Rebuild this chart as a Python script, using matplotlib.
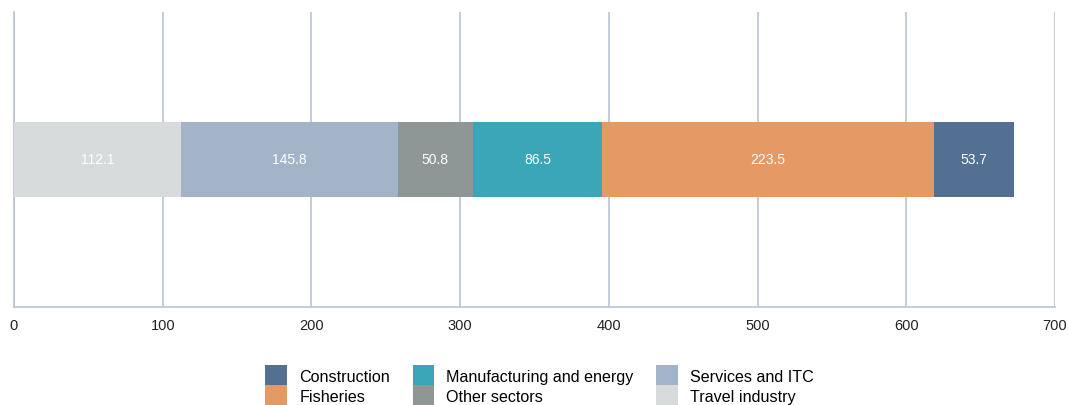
import matplotlib.pyplot as plt
from matplotlib.patches import Patch

sectors = ["Travel industry", "Services and ITC", "Other sectors",
           "Manufacturing and energy", "Fisheries", "Construction"]
values = [112.1, 145.8, 50.8, 86.5, 223.5, 53.7]
colors = ["#d7dbdc", "#a3b4c8", "#8e9696", "#3aa6b8", "#e59a65", "#537092"]
legend_order = ["Construction", "Fisheries", "Manufacturing and energy",
                "Other sectors", "Services and ITC", "Travel industry"]
xticks = [0, 100, 200, 300, 400, 500, 600, 700]

plt.rcParams['font.family'] = ['Liberation Sans', 'DejaVu Sans']

fig = plt.figure(figsize=(10.68, 4.06), dpi=100)
ax = fig.add_axes([0.0131, 0.2414, 0.9747, 0.7266])

grid_col = "#b8c4d4"
left = 0
for name, v, c in zip(sectors, values, colors):
    ax.barh(0, v, left=left, height=0.254, color=c, zorder=3)
    ax.text(left + v / 2, 0, f"{v:.1f}", ha="center", va="center",
            color="white", fontsize=10, zorder=4)
    left += v

ax.set_xlim(0, 700)
ax.set_ylim(-0.5, 0.5)
ax.set_xticks(xticks)
ax.set_yticks([])
ax.tick_params(axis="x", length=0, labelsize=10.5, pad=8, colors="#222222")
ax.grid(axis="x", color=grid_col, linewidth=1.2, zorder=0)
for s in ["top", "right"]:
    ax.spines[s].set_visible(False)
for s in ["left", "bottom"]:
    ax.spines[s].set_color(grid_col)
    ax.spines[s].set_linewidth(1.2)

cmap = dict(zip(sectors, colors))
handles = [Patch(facecolor=cmap[n], label=n) for n in legend_order]
fig.legend(handles=handles, ncol=3, loc="upper left",
           bbox_to_anchor=(0.241, 0.118), frameon=False, fontsize=11.6,
           labelspacing=0, handlelength=1.35, handleheight=1.55,
           handletextpad=0.75, columnspacing=1.4, borderpad=0)

fig.savefig("out.png", dpi=100)
